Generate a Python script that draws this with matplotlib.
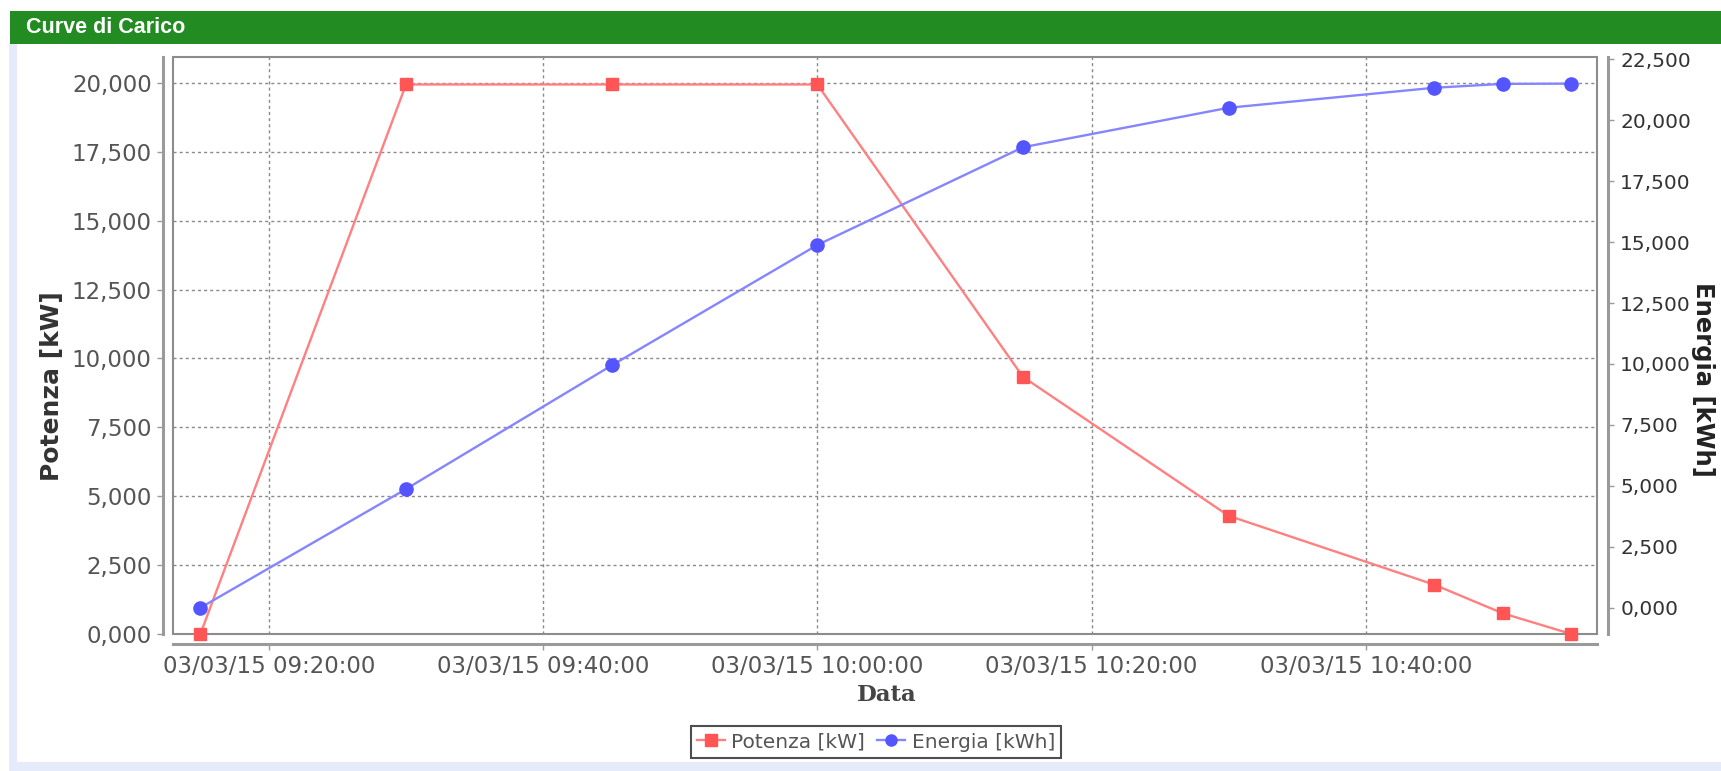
import datetime as dt
import matplotlib
matplotlib.use("Agg")
import matplotlib.pyplot as plt
import matplotlib.dates as mdates
from matplotlib.ticker import FuncFormatter, MultipleLocator
from matplotlib.patches import Rectangle
from matplotlib.lines import Line2D

# data (03/03/2015)
times = ["09:15", "09:30", "09:45", "10:00", "10:15", "10:30", "10:45", "10:50", "10:55"]
potenza = [0, 19940, 19940, 19940, 9330, 4290, 1790, 750, 0]       # kW
energia = [0, 4870, 9940, 14880, 18890, 20510, 21330, 21490, 21500]  # kWh

W, H = 1721, 771
red_line, red_mark = "#ff8080", "#ff5555"
blue_line, blue_mark = "#8585ff", "#5555ff"
grid_col = "#8a8a8a"


def fx(px):
    return px / W


def fy(py):
    return 1 - py / H


def it_fmt(v, pos):
    # 20000 -> "20,000", 0 -> "0,000"
    return ("%.3f" % (v / 1000.0)).replace(".", ",")


day = dt.date(2015, 3, 3)
x = [dt.datetime.combine(day, dt.datetime.strptime(t, "%H:%M").time()) for t in times]

fig = plt.figure(figsize=(W / 100, H / 100), dpi=100)
fig.patch.set_facecolor("white")

# panel background, lavender border left/bottom
fig.patches.append(Rectangle((fx(9), 0), 1, fy(44), transform=fig.transFigure,
                             facecolor="#e6ebfb", edgecolor="none", zorder=-10))
fig.patches.append(Rectangle((fx(17), fy(762)), 1, fy(44) - fy(762), transform=fig.transFigure,
                             facecolor="white", edgecolor="none", zorder=-9))
# green title bar
fig.patches.append(Rectangle((fx(10), fy(44)), 1, fy(11) - fy(44), transform=fig.transFigure,
                             facecolor="#228b22", edgecolor="none", zorder=-8))
fig.text(fx(26), fy(27.5), "Curve di Carico", color="white", fontsize=15.5, fontweight="bold",
         family="Liberation Sans", va="center", ha="left")

ax = fig.add_axes([fx(172.5), fy(634), fx(1596.7) - fx(172.5), fy(57) - fy(634)])
ax2 = ax.twinx()

ax.plot(x, potenza, color=red_line, lw=1.7, marker="s", ms=9,
        mfc=red_mark, mec=red_mark, zorder=3, clip_on=False)
ax2.plot(x, energia, color=blue_line, lw=1.7, marker="o", ms=9.5,
         mfc=blue_mark, mec=blue_mark, zorder=3, clip_on=False)

ax.set_xlim(dt.datetime(2015, 3, 3, 9, 12, 58), dt.datetime(2015, 3, 3, 10, 56, 51))
ax.set_ylim(0, 20937)
ax2.set_ylim(-1076, 22592)

ax.xaxis.set_major_locator(mdates.MinuteLocator(byminute=[0, 20, 40]))
ax.xaxis.set_major_formatter(mdates.DateFormatter("%d/%m/%y %H:%M:%S"))
ax.yaxis.set_major_locator(MultipleLocator(2500))
ax2.yaxis.set_major_locator(MultipleLocator(2500))
ax.yaxis.set_major_formatter(FuncFormatter(it_fmt))
ax2.yaxis.set_major_formatter(FuncFormatter(it_fmt))

ax.grid(True, color=grid_col, linestyle=(0, (2.2, 2.2)), linewidth=1.0)
ax.set_axisbelow(True)

for a in (ax, ax2):
    for s in a.spines.values():
        s.set_visible(False)
ax.spines["left"].set_visible(True)
ax.spines["bottom"].set_visible(True)
ax2.spines["right"].set_visible(True)
ax.spines["left"].set_position(("outward", 7))
ax.spines["bottom"].set_position(("outward", 7))
ax2.spines["right"].set_position(("outward", 8))
for s in (ax.spines["left"], ax.spines["bottom"], ax2.spines["right"]):
    s.set_color("#9a9a9a")
    s.set_linewidth(2.2)

# plot frame
ax.add_patch(Rectangle((0, 0), 1, 1, transform=ax.transAxes, fill=False,
                       edgecolor="#8c8c8c", lw=1.5, clip_on=False, zorder=2))

ax.tick_params(axis="both", direction="out", length=4, width=1, color="#9a9a9a",
               labelsize=16.5, labelcolor="#555555", pad=4)
ax2.tick_params(axis="y", direction="out", length=4, width=1, color="#9a9a9a",
                labelsize=14.5, labelcolor="#333333", pad=5)
ax.tick_params(axis="x", pad=4)

fig.text(fx(52), fy(386), "Potenza [kW]", rotation=90, ha="center", va="center",
         fontsize=18, fontweight="bold", color="#333333")
fig.text(fx(1703), fy(379), "Energia [kWh]", rotation=-90, ha="center", va="center",
         fontsize=17.5, fontweight="bold", color="#222222")
fig.text(fx(887), fy(695), "Data", ha="center", va="center",
         fontsize=16.5, fontweight="bold", color="#444444", family="DejaVu Serif")

handles = [
    Line2D([], [], color=red_line, lw=1.7, marker="s", ms=8, mfc=red_mark, mec=red_mark),
    Line2D([], [], color=blue_line, lw=1.7, marker="o", ms=8, mfc=blue_mark, mec=blue_mark),
]
leg = fig.legend(handles, ["Potenza [kW]", "Energia [kWh]"], loc="center",
                 bbox_to_anchor=(fx(876), fy(742)), ncol=2, fontsize=14.5,
                 frameon=True, fancybox=False, handlelength=1.4, handletextpad=0.3,
                 columnspacing=0.6, borderpad=0.3, labelcolor="#555555")
leg.get_frame().set_edgecolor("#222222")
leg.get_frame().set_linewidth(1.5)

fig.savefig("out.png", dpi=100, facecolor=fig.get_facecolor())
